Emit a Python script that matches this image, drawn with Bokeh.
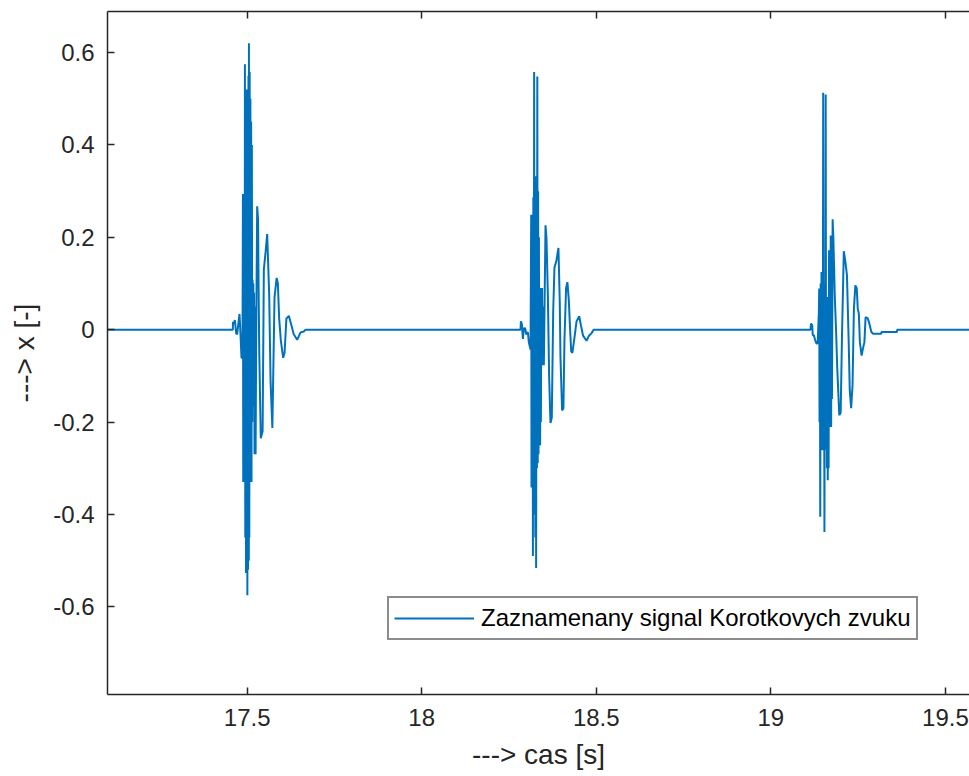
from bokeh.plotting import figure
from bokeh.models import LinearAxis, FixedTicker, Range1d, Legend, LegendItem
from bokeh.embed import file_html
from bokeh.resources import INLINE

# ---------------- data ----------------
x_ticks = [17.5, 18.0, 18.5, 19.0, 19.5]
x_tick_labels = ["17.5", "18", "18.5", "19", "19.5"]
y_ticks = [-0.6, -0.4, -0.2, 0.0, 0.2, 0.4, 0.6]
y_tick_labels = ["-0.6", "-0.4", "-0.2", "0", "0.2", "0.4", "0.6"]

series_label = "Zaznamenany signal Korotkovych zvuku"

lead_t = [17.100]
lead_x = [0.0]

burst1_t = [17.4590, 17.4595, 17.4619, 17.4648, 17.4685, 17.4714, 17.4743, 17.4781, 17.4809, 17.4838, 17.4866,
            17.4879, 17.4888, 17.4898, 17.4909, 17.4918, 17.4929, 17.4936, 17.4946, 17.4957, 17.4967,
            17.4978, 17.4988, 17.4999, 17.5006, 17.5016, 17.5027, 17.5037, 17.5048, 17.5051, 17.5062,
            17.5072, 17.5083, 17.5093, 17.5104, 17.5114, 17.5125, 17.5135, 17.5146, 17.5156, 17.5167,
            17.5177, 17.5188, 17.5198, 17.5211, 17.5225, 17.5242, 17.5260,
            17.5287, 17.5312, 17.5329, 17.5347, 17.5390, 17.5443, 17.5478, 17.5530, 17.5574, 17.5631,
            17.5670, 17.5722, 17.5784, 17.5845, 17.5880, 17.5917, 17.5967, 17.6032, 17.6072, 17.6124,
            17.6194, 17.6273, 17.6334, 17.6433, 17.6529, 17.6622, 17.6672]
burst1_x = [0.0, 0.017, 0.012, 0.021, -0.008, -0.010, 0.010, 0.034, -0.010, -0.061, -0.061,
            0.294, -0.33, 0.25, -0.30, 0.29, -0.33, 0.575, -0.45, 0.52, -0.527,
            0.50, -0.48, 0.52, -0.575, 0.45, -0.52, 0.55, -0.50, 0.62, -0.45,
            0.558, -0.33, 0.50, -0.30, 0.45, -0.33, 0.40, -0.20, 0.108, -0.165,
            0.10, -0.165, 0.08, -0.27, 0.05, -0.27, 0.0,
            0.267, 0.24, 0.08, -0.05, -0.235, -0.22, 0.13, 0.17, 0.207, 0.076,
            -0.11, -0.213, 0.07, 0.112, 0.10, 0.024, -0.025, -0.061, -0.05, 0.024,
            0.030, 0.008, -0.01, -0.022, -0.006, -0.004, 0.0]

burst2_t = [18.2830, 18.2841, 18.2869, 18.2898, 18.2926, 18.2964, 18.2993, 18.3040, 18.3069, 18.3117,
            18.3136, 18.3145, 18.3155, 18.3164, 18.3176, 18.3185, 18.3197, 18.3208, 18.3220, 18.3231,
            18.3242, 18.3254, 18.3265, 18.3277, 18.3288, 18.3300, 18.3311, 18.3323, 18.3334, 18.3345,
            18.3357, 18.3368, 18.3380, 18.3391, 18.3403, 18.3414, 18.3425, 18.3437, 18.3448, 18.3460,
            18.3479, 18.3498,
            18.3546, 18.3574, 18.3613, 18.3650, 18.3688, 18.3726, 18.3766, 18.3802, 18.3859, 18.3916,
            18.3954, 18.3974, 18.4021, 18.4059, 18.4088, 18.4135, 18.4173, 18.4214, 18.4250, 18.4282,
            18.4316, 18.4383, 18.4434, 18.4511, 18.4564, 18.4621, 18.4721, 18.4792, 18.4859, 18.4926]
burst2_x = [0.0, 0.018, 0.012, -0.020, 0.003, 0.003, -0.010, -0.005, -0.028, -0.043,
            0.249, -0.342, 0.20, -0.30, 0.249, -0.49, 0.287, -0.40, 0.558, -0.35,
            0.287, -0.45, 0.332, -0.516, 0.30, -0.30, 0.548, -0.289, 0.30, -0.27,
            0.20, -0.251, 0.09, -0.25, 0.09, -0.20, 0.09, -0.077, 0.09, -0.077,
            0.05, -0.077,
            0.226, 0.198, 0.075, -0.103, -0.202, -0.190, 0.040, 0.134, 0.150, 0.177,
            0.06, -0.058, -0.175, -0.170, -0.024, 0.090, 0.103, 0.063, 0.0, -0.047,
            -0.050, -0.013, 0.018, 0.029, 0.008, -0.013, -0.024, -0.013, -0.008, 0.0]

burst3_t = [19.1137, 19.1150, 19.1185, 19.1200, 19.1233, 19.1270, 19.1310, 19.1340, 19.1376, 19.1385,
            19.1395, 19.1405, 19.1415, 19.1427, 19.1439, 19.1451, 19.1463, 19.1475, 19.1487, 19.1499,
            19.1511, 19.1523, 19.1535, 19.1547, 19.1559, 19.1571, 19.1583, 19.1595, 19.1607, 19.1619,
            19.1631, 19.1643, 19.1655, 19.1667, 19.1679, 19.1691, 19.1703, 19.1715, 19.1727, 19.1739,
            19.1751, 19.1770, 19.1790,
            19.1834, 19.1870, 19.1900, 19.1960, 19.2000, 19.2040, 19.2090, 19.2130, 19.2180, 19.2230,
            19.2260, 19.2300, 19.2340, 19.2379, 19.2420, 19.2460, 19.2490, 19.2520, 19.2550, 19.2600,
            19.2640, 19.2680, 19.2713, 19.2770, 19.2808, 19.2880, 19.2932, 19.3161, 19.3170, 19.3610,
            19.3621]
burst3_x = [0.0, 0.013, 0.010, -0.012, -0.012, -0.023, -0.030, -0.030, 0.038, 0.089,
            -0.20, 0.089, -0.405, 0.10, -0.261, 0.125, -0.261, 0.125, -0.261, 0.513,
            -0.261, 0.10, -0.438, 0.10, -0.26, 0.509, -0.25, 0.071, -0.30, 0.071,
            -0.326, 0.071, -0.30, 0.172, -0.211, 0.172, -0.211, 0.204, -0.211, 0.204,
            -0.15, 0.239, 0.20,
            0.067, -0.005, -0.08, -0.185, -0.180, -0.005, 0.170, 0.150, 0.118, -0.027,
            -0.131, -0.170, -0.120, 0.045, 0.096, 0.090, 0.045, 0.035, -0.027, -0.056,
            -0.040, -0.027, 0.027, 0.025, 0.017, -0.005, -0.009, -0.009, -0.005, -0.005,
            0.0]

tail_t = [19.580]
tail_x = [0.0]

t_all = lead_t + burst1_t + burst2_t + burst3_t + tail_t
x_all = lead_x + burst1_x + burst2_x + burst3_x + tail_x

# ---------------- figure ----------------
FONT = "Liberation Sans"
AX = "#262626"
BLUE = "#0072BD"

p = figure(width=969, height=776, output_backend="svg", toolbar_location=None,
           x_range=Range1d(17.1, 19.569), y_range=Range1d(-0.79, 0.689),
           min_border_left=107, min_border_right=0, min_border_top=11, min_border_bottom=82,
           x_axis_location=None, y_axis_location=None)
p.outline_line_color = None
p.xgrid.visible = False
p.ygrid.visible = False
p.background_fill_color = "white"
p.border_fill_color = "white"

r = p.line(t_all, x_all, line_color=BLUE, line_width=2.0)


def style(ax, ticks, labels, show_labels=True):
    ax.ticker = FixedTicker(ticks=ticks)
    ax.major_label_overrides = {t: l for t, l in zip(ticks, labels)}
    ax.minor_tick_line_color = None
    ax.major_tick_in = 7
    ax.major_tick_out = 0
    ax.major_tick_line_color = AX
    ax.major_tick_line_width = 1.5
    ax.axis_line_color = AX
    ax.axis_line_width = 1.5
    ax.major_label_text_font = FONT
    if show_labels:
        ax.major_label_text_font_size = "24px"
        ax.major_label_text_color = AX
    else:
        ax.major_label_text_font_size = "1px"
        ax.major_label_text_color = None
        ax.major_label_standoff = 0
    ax.axis_label_text_font = FONT
    ax.axis_label_text_font_size = "28px"
    ax.axis_label_text_font_style = "normal"
    ax.axis_label_text_color = AX


xb = LinearAxis(axis_label="---> cas [s]")
style(xb, x_ticks, x_tick_labels)
xb.major_label_standoff = 14
xb.axis_label_standoff = 10
p.add_layout(xb, "below")

yl = LinearAxis(axis_label="---> x [-]")
style(yl, y_ticks, y_tick_labels)
yl.major_label_standoff = 13
yl.axis_label_standoff = 10
p.add_layout(yl, "left")

xt = LinearAxis()
style(xt, x_ticks, x_tick_labels, show_labels=False)
p.add_layout(xt, "above")

legend = Legend(items=[LegendItem(label=series_label, renderers=[r])],
                location=(280, 54), orientation="vertical")
legend.label_text_font = FONT
legend.label_text_font_size = "24px"
legend.label_text_color = "#000000"
legend.glyph_width = 80
legend.glyph_height = 30
legend.label_height = 30
legend.label_standoff = 7
legend.padding = 5
legend.margin = 0
legend.spacing = 0
legend.border_line_color = "#1a1a1a"
legend.border_line_width = 2
legend.background_fill_color = "white"
legend.background_fill_alpha = 1.0
p.add_layout(legend)

open("out.html", "w").write(file_html(p, INLINE))
